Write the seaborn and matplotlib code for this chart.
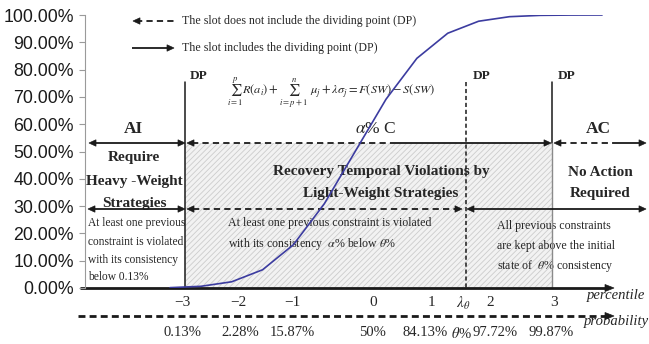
import numpy as np
import pandas as pd
import seaborn as sns
import matplotlib
matplotlib.use("Agg")
import matplotlib.pyplot as plt
from matplotlib.patches import Polygon, Rectangle
from matplotlib.ticker import FuncFormatter

# ---------------- data ----------------
z_values = [-3.0, -2.5, -2.0, -1.5, -1.0, -0.5, 0.0, 0.5, 1.0, 1.5, 2.0, 2.5, 3.0, 3.5, 4.0]
cdf_percent = [0.13, 0.62, 2.28, 6.68, 15.87, 30.85, 50.0, 69.15, 84.13, 93.32, 97.72, 99.38, 99.87, 99.98, 100.0]
y_ticks = list(range(0, 101, 10))
percentile_labels = ["\u22123", "\u22122", "\u22121", "0", "1", r"$\lambda_\theta$", "2", "3"]
probability_labels = ["0.13%", "2.28%", "15.87%", "50%", "84.13%", r"$\theta$%", "97.72%", "99.87%"]

sns.set_theme(style="white")
plt.rcParams["font.family"] = ["Liberation Serif", "DejaVu Serif"]
plt.rcParams["mathtext.fontset"] = "stix"
plt.rcParams["hatch.linewidth"] = 0.6
plt.rcParams["lines.scale_dashes"] = False

W, H = 649, 344
fig = plt.figure(figsize=(W / 100, H / 100), dpi=100)

# overlay in pixel coordinates for the diagram annotations
ov = fig.add_axes([0, 0, 1, 1])
ov.set_xlim(0, W)
ov.set_ylim(H, 0)
ov.axis("off")
ov.set_zorder(0)

# main chart axes
ax = fig.add_axes([85 / W, (H - 288) / H, (W - 85) / W, 273 / H])
ax.set_zorder(1)
ax.patch.set_visible(False)

df = pd.DataFrame({"z": z_values, "cdf": cdf_percent})
sns.lineplot(data=df, x="z", y="cdf", ax=ax, color="#3c3ca0", lw=1.2)
pxz = 61.72
xmin = -3 - (170 - 85) / pxz
ax.set_xlim(xmin, xmin + (W - 85) / pxz)
ax.set_ylim(0, 100)
ax.set_yticks(y_ticks)
ax.yaxis.set_major_formatter(FuncFormatter(lambda v, p: f"{v:.2f}%"))
ax.set_xticks([])
ax.set_xlabel("")
ax.set_ylabel("")
for s in ["top", "right", "bottom"]:
    ax.spines[s].set_visible(False)
ax.spines["left"].set_color("#9a9a9a")
ax.spines["left"].set_linewidth(0.8)
ax.tick_params(axis="y", left=True, length=4, width=0.8, color="#9a9a9a", pad=4,
               labelsize=12.8, labelcolor="#1a1a1a")
for lbl in ax.get_yticklabels():
    lbl.set_fontfamily("Liberation Sans")


# ---------------- helpers ----------------
def head(x, y, d, L=7, w=3.2):
    ov.add_patch(Polygon([(x, y), (x - d * L, y - w), (x - d * L, y + w)],
                         closed=True, fc="k", ec="k", lw=0.5, zorder=5))


def hline(x1, x2, y, dashed=False, lw=1.3, color="k"):
    ov.plot([x1, x2], [y, y], color=color, lw=lw,
            ls=(0, (4.5, 3)) if dashed else "-", zorder=4, solid_capstyle="butt")


def vline(x, y1, y2, ls="-", lw=1.0, color="k"):
    ov.plot([x, x], [y1, y2], color=color, lw=lw, ls=ls, zorder=4)


serif = "Liberation Serif"

# hatched region
ov.add_patch(Rectangle((185, 143), 552 - 185, 288 - 143, fc="#f2f2f2",
                       ec="#cccccc", hatch="//////", lw=0, zorder=1))

# legend
hline(136, 175, 21, dashed=True)
head(133, 21, -1)
hline(132, 167, 48)
head(174, 48, 1)
ov.text(182, 21, "The slot does not include the dividing point (DP)", fontsize=8.6,
        va="center", ha="left", family=serif)
ov.text(182, 48, "The slot includes the dividing point (DP)", fontsize=8.6,
        va="center", ha="left", family=serif)

# DP lines
vline(185, 82, 288, lw=1.1)
vline(466, 82, 288, ls=(0, (3, 2)), lw=1.1)
vline(552, 82, 143, lw=1.1)
vline(552, 143, 288, lw=1.0, color="#8a8a8a")
for x in [199, 482, 567]:
    ov.text(x, 76, "DP", fontsize=9.5, fontweight="bold", ha="center", va="center", family=serif)

# formula
ov.text(331, 93, r"$\sum_{i=1}^{p}R(a_i)+\sum_{i=p+1}^{n}\ \mu_j+\lambda\sigma_j=F(SW)-S(SW)$",
        fontsize=8.9, ha="center", va="center")

# first arrow row (y=143)
Y1 = 143
hline(95, 180, Y1)
head(89, Y1, -1)
head(185, Y1, 1)
hline(192, 390, Y1, dashed=True)
hline(390, 545, Y1)
head(187, Y1, -1)
head(551, Y1, 1)
hline(560, 617, Y1, dashed=True)
hline(617, 640, Y1)
head(554, Y1, -1)
head(646, Y1, 1)
ov.text(133, 129, "AI", fontsize=12.5, fontweight="bold", ha="center", va="center", family=serif)
ov.text(376, 129, r"$\alpha$% C", fontsize=12.5, ha="center", va="center", family=serif)
ov.text(598, 129, "AC", fontsize=12.5, fontweight="bold", ha="center", va="center", family=serif)

# bold region texts
for t, y in [("Require", 158), ("Heavy -Weight", 181), ("Strategies", 203)]:
    ov.text(134, y, t, fontsize=11, fontweight="bold", ha="center", va="center", family=serif)
for t, y in [("Recovery Temporal Violations by", 171), ("Light-Weight Strategies", 193)]:
    ov.text(381, y, t, fontsize=11, fontweight="bold", ha="center", va="center", family=serif)
for t, y in [("No Action", 172), ("Required", 193)]:
    ov.text(600, y, t, fontsize=11, fontweight="bold", ha="center", va="center", family=serif)

# second arrow row (y=209)
Y2 = 209
hline(94, 180, Y2)
head(88, Y2, -1)
head(185, Y2, 1)
hline(193, 456, Y2, dashed=True)
head(187, Y2, -1)
head(462, Y2, 1)
hline(472, 640, Y2)
head(467, Y2, -1)
head(646, Y2, 1)

# small explanatory texts
for t, y in [("At least one previous", 223), ("constraint is violated", 242),
             ("with its consistency", 260), ("below 0.13%", 277)]:
    ov.text(88, y, t, fontsize=8.3, ha="left", va="center", family=serif)
ov.text(228, 223, "At least one previous constraint is violated", fontsize=8.6,
        ha="left", va="center", family=serif)
ov.text(228, 244, r"with its consistency  $\alpha$% below $\theta$%", fontsize=8.6,
        ha="left", va="center", family=serif)
for t, y in [("All previous constraints", 226), ("are kept above the initial", 246),
             (r"state of  $\theta$% consistency", 266)]:
    ov.text(497, y, t, fontsize=8.6, ha="left", va="center", family=serif)

# bottom axes (percentile / probability)
ov.plot([80, 607], [288, 288], color="k", lw=2.0, zorder=4, solid_capstyle="butt")
head(614, 288, 1, L=9, w=3.5)
ov.plot([78, 607], [316, 316], color="k", lw=2.0, ls=(0, (5, 3)), zorder=4)
head(614, 316, 1, L=9, w=3.5)
ov.text(645, 296, "percentile", fontsize=10.5, style="italic", ha="right", va="center", family=serif)
ov.text(649, 321, "probability", fontsize=10.5, style="italic", ha="right", va="center", family=serif)

pos = [182, 238, 292, 373, 431, 463, 490, 554]
for x, t in zip(pos, percentile_labels):
    ov.text(x, 303, t, fontsize=11, ha="center", va="center", family=serif)
pos2 = [182, 240, 292, 373, 425, 461, 495, 551]
for x, t in zip(pos2, probability_labels):
    ov.text(x, 333, t, fontsize=10.5, ha="center", va="center", family=serif)

fig.savefig("out.png", dpi=100)
